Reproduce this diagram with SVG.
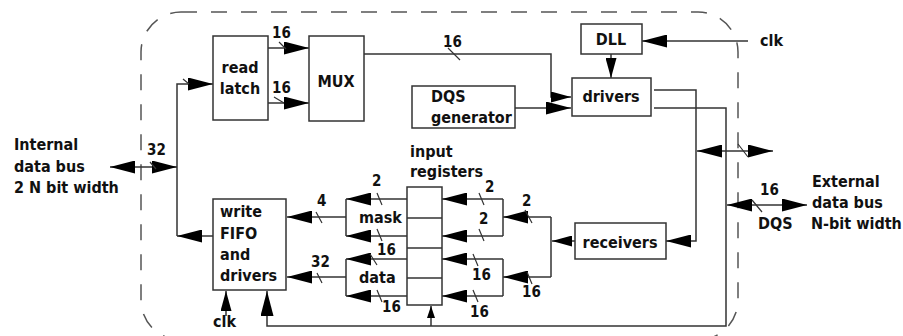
<svg xmlns="http://www.w3.org/2000/svg" width="903" height="336" viewBox="0 0 903 336">
<defs>
<style>
.box{fill:#fff;stroke:#333;stroke-width:1.5}
.ln{fill:none;stroke:#333;stroke-width:1.5}
.tk{fill:none;stroke:#333;stroke-width:1.2}
.dash{fill:none;stroke:#555;stroke-width:1.5;stroke-dasharray:16 14}
.t{font-family:"DejaVu Sans Condensed","DejaVu Sans",sans-serif;font-weight:bold;font-size:16px;fill:#111}
.n{font-size:15px}
.m{text-anchor:middle}
.a{marker-end:url(#ah)}
.b{marker-start:url(#ah);marker-end:url(#ah)}
.am{marker-end:url(#am)}
.as{marker-end:url(#as)}
</style>
<marker id="ah" markerUnits="userSpaceOnUse" markerWidth="25" markerHeight="13" refX="25" refY="6.5" orient="auto-start-reverse"><path d="M0,0 L25,6.5 L0,13 z" fill="#000"/></marker>
<marker id="am" markerUnits="userSpaceOnUse" markerWidth="20" markerHeight="11" refX="20" refY="5.5" orient="auto"><path d="M0,0 L20,5.5 L0,11 z" fill="#000"/></marker>
<marker id="as" markerUnits="userSpaceOnUse" markerWidth="12" markerHeight="8" refX="12" refY="4" orient="auto"><path d="M0,0 L12,4 L0,8 z" fill="#000"/></marker>
</defs>
<rect class="dash" x="141" y="12" width="597" height="328" rx="40" ry="40"/>
<g id="connectors">
<path class="ln a" d="M268,48 L309,48"/>
<path class="ln a" d="M268,103 L309,103"/>
<path class="ln a" d="M177,236 L177,84 L213,84"/>
<path class="ln a" d="M213,236 L177,236"/>
<path class="ln b" d="M110,167 L177,167"/>
<path class="ln am" d="M364,54 L551,54 L551,97 L571,97"/>
<path class="ln a" d="M515,108 L571,108"/>
<path class="ln a" d="M748,41 L642,41"/>
<path class="ln am" d="M611,54 L611,78"/>
<path class="ln a" d="M654,90 L696,90 L696,241 L666,241"/>
<path class="ln a" d="M654,108 L726,108 L726,326 L267,326 L267,291"/>
<path class="ln b" d="M697,151 L773,151"/>
<path class="ln b" d="M727,205 L807,205"/>
<path class="ln as" d="M431,326 L431,306"/>
<path class="ln am" d="M575,241 L552,241"/>
<path class="ln" d="M551,217 L551,277"/>
<path class="ln a" d="M551,217 L503,217"/>
<path class="ln a" d="M551,277 L503,277"/>
<path class="ln" d="M503,199 L503,236 M503,259 L503,296"/>
<path class="ln a" d="M503,199 L442,199"/>
<path class="ln a" d="M503,236 L442,236"/>
<path class="ln a" d="M503,259 L442,259"/>
<path class="ln a" d="M503,296 L442,296"/>
<path class="ln" d="M346,199 L346,236 M346,259 L346,296"/>
<path class="ln a" d="M407,199 L346,199"/>
<path class="ln a" d="M407,236 L346,236"/>
<path class="ln a" d="M407,259 L346,259"/>
<path class="ln a" d="M407,296 L346,296"/>
<path class="ln a" d="M346,217 L287,217"/>
<path class="ln a" d="M346,277 L287,277"/>
<path class="ln am" d="M226,316 L226,291"/>
<path class="tk" d="M279,42 L286,49 M274,97 L284,103 M448,48 L460,60 M183,79 L189,84 M150,162 L156,169 M738,144 L748,157 M752,200 L762,212 M316,212 L322,223 M317,273 L322,283 M377,193 L382,205 M377,229 L382,241 M370,254 L377,265 M377,290 L382,302 M479,193 L484,205 M479,229 L484,241 M473,254 L478,266 M473,290 L478,302 M525,210 L532,223 M527,272 L532,284"/>
</g>
<g id="read-latch"><rect class="box" x="213" y="36" width="55" height="84"/><text class="t m" x="240" y="73">read</text><text class="t m" x="240" y="94">latch</text></g>
<g id="mux"><rect class="box" x="309" y="36" width="55" height="85"/><text class="t m" x="336" y="87">MUX</text></g>
<g id="dll"><rect class="box" x="581" y="24" width="61" height="30"/><text class="t m" x="611" y="45">DLL</text></g>
<g id="drivers"><rect class="box" x="572" y="78" width="79" height="38"/><text class="t m" x="611" y="102">drivers</text></g>
<g id="dqs-generator"><rect class="box" x="412" y="86" width="103" height="42"/><text class="t" x="431" y="102">DQS</text><text class="t" x="431" y="123">generator</text></g>
<g id="receivers"><rect class="box" x="575" y="223" width="91" height="36"/><text class="t m" x="620" y="248">receivers</text></g>
<g id="write-fifo"><rect class="box" x="213" y="199" width="73" height="91"/><text class="t" x="220" y="217">write</text><text class="t" x="220" y="239">FIFO</text><text class="t" x="220" y="260">and</text><text class="t" x="220" y="281">drivers</text></g>
<g id="input-registers"><rect class="box" x="407" y="187" width="35" height="118"/><path class="ln" d="M407,218 L442,218 M407,248 L442,248 M407,278 L442,278"/><text class="t" x="410" y="157">input</text><text class="t" x="410" y="177">registers</text></g>
<g id="mask"><text class="t" x="359" y="223">mask</text></g>
<g id="data"><text class="t" x="359" y="283">data</text></g>
<g id="labels">
<text class="t" x="14" y="150">Internal</text><text class="t" x="14" y="172">data bus</text><text class="t" x="14" y="193">2 N bit width</text>
<text class="t" x="812" y="187">External</text><text class="t" x="812" y="208">data bus</text><text class="t" x="811" y="229">N-bit width</text>
<text class="t" x="760" y="46">clk</text><text class="t" x="213" y="327">clk</text>
<text class="t" x="758" y="229">DQS</text>
<text class="t n" x="272" y="38">16</text><text class="t n" x="272" y="93">16</text><text class="t n" x="443" y="47">16</text><text class="t n" x="147" y="155">32</text>
<text class="t n" x="317" y="206">4</text><text class="t n" x="372" y="186">2</text><text class="t n" x="377" y="255">16</text><text class="t n" x="311" y="267">32</text><text class="t n" x="382" y="312">16</text>
<text class="t n" x="485" y="192">2</text><text class="t n" x="479" y="224">2</text><text class="t n" x="472" y="280">16</text><text class="t n" x="470" y="317">16</text>
<text class="t n" x="522" y="206">2</text><text class="t n" x="522" y="297">16</text><text class="t n" x="760" y="195">16</text>
</g>
</svg>
